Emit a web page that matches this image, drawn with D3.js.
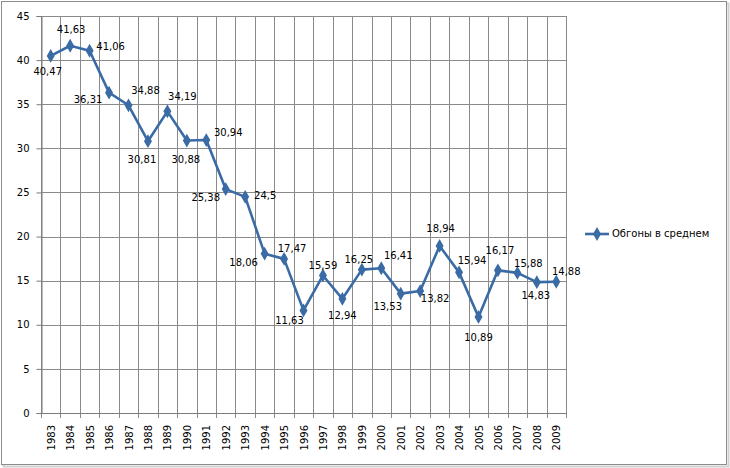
<!DOCTYPE html>
<html>
<head>
<meta charset="utf-8">
<script src="https://cdn.jsdelivr.net/npm/d3@7"></script>
<style>
  body { margin: 0; background: #fff; }
  text { font-family: "DejaVu Sans", sans-serif; font-size: 10px; fill: #000; }
</style>
</head>
<body>
<svg width="730" height="468"></svg>
<script>
// Years and average overtakes per race
const years = ["1983","1984","1985","1986","1987","1988","1989","1990","1991","1992","1993","1994","1995",
  "1996","1997","1998","1999","2000","2001","2002","2003","2004","2005","2006","2007","2008","2009"];
const overtakes = [40.47, 41.63, 41.06, 36.31, 34.88, 30.81, 34.19, 30.88, 30.94, 25.38, 24.5, 18.06, 17.47,
  11.63, 15.59, 12.94, 16.25, 16.41, 13.53, 13.82, 18.94, 15.94, 10.89, 16.17, 15.88, 14.83, 14.88];
const yTicks = [0, 5, 10, 15, 20, 25, 30, 35, 40, 45];
const seriesName = "Обгоны в среднем";

// label nudges relative to each point (how excel placed them)
const labelNudge = [[-3,16],[1,-16],[21,-4],[-21,7],[17,-14],[-6,19],[15,-14],[-1,19],[22,-7],[-20,9],
  [20,-1],[-21,9],[8,-10],[-14,11],[0,-9],[0,17],[-3,-10],[17,-12],[-13,13],[15,8],[1,-17],[13,-11],
  [0,21],[2,-19],[11,-9],[-1,14],[10,-10]];

const svg = d3.select("svg");
const blue = "#3a6ba5";

// outer chart border with a soft shadow
svg.append("rect")
    .attr("x", 3.5).attr("y", 3.5)
    .attr("width", 725).attr("height", 463)
    .attr("fill", "none").attr("stroke", "#d0d0d0").attr("stroke-width", 2);
svg.append("rect")
    .attr("x", 1.5).attr("y", 1.5)
    .attr("width", 725).attr("height", 463)
    .attr("fill", "#fff").attr("stroke", "#8c8c8c");

const plotL = 41, plotR = 566, plotT = 16, plotB = 413;

const x = d3.scaleBand().domain(years).range([plotL, plotR]);
const y = d3.scaleLinear().domain([0, 45]).range([plotB, plotT]);

// horizontal gridlines
svg.append("g").selectAll("line")
    .data(yTicks)
    .enter().append("line")
    .attr("x1", plotL).attr("x2", plotR)
    .attr("y1", d => Math.round(y(d)) + 0.5).attr("y2", d => Math.round(y(d)) + 0.5)
    .attr("stroke", "#8a8a8a");

// vertical gridlines at category boundaries
const bounds = years.map(d => x(d)).concat([plotR]);
svg.append("g").selectAll("line")
    .data(bounds)
    .enter().append("line")
    .attr("x1", d => Math.round(d) + 0.5).attr("x2", d => Math.round(d) + 0.5)
    .attr("y1", plotT).attr("y2", plotB + 5)
    .attr("stroke", "#8a8a8a");

// y axis
const yAxis = svg.append("g")
    .attr("transform", `translate(${plotL + 0.5},0)`)
    .call(d3.axisLeft(y).tickValues(yTicks).tickSize(5).tickPadding(7));
yAxis.select(".domain").attr("stroke", "#7a7a7a");
yAxis.selectAll(".tick line").attr("stroke", "#7a7a7a");
yAxis.selectAll("text").style("font-family", "DejaVu Sans").style("font-size", "10px");

// x axis baseline
svg.append("line")
    .attr("x1", plotL).attr("x2", plotR)
    .attr("y1", plotB + 0.5).attr("y2", plotB + 0.5)
    .attr("stroke", "#7a7a7a");

// x labels rotated
svg.append("g").selectAll("text")
    .data(years)
    .enter().append("text")
    .attr("transform", d => `translate(${x(d) + x.bandwidth() / 2 + 4},${plotB + 12}) rotate(-90)`)
    .attr("text-anchor", "end")
    .text(d => d);

// line
const line = d3.line()
    .x((d, i) => x(years[i]) + x.bandwidth() / 2)
    .y(d => y(d));

svg.append("path")
    .datum(overtakes)
    .attr("d", line)
    .attr("fill", "none")
    .attr("stroke", blue)
    .attr("stroke-width", 2.6)
    .attr("stroke-linejoin", "round");

const diamond = d3.symbol().type(d3.symbolDiamond).size(55);
svg.append("g").selectAll("path")
    .data(overtakes)
    .enter().append("path")
    .attr("transform", (d, i) => `translate(${x(years[i]) + x.bandwidth() / 2},${y(d)})`)
    .attr("d", diamond)
    .attr("fill", blue);

// data labels
svg.append("g").selectAll("text")
    .data(overtakes)
    .enter().append("text")
    .attr("x", (d, i) => x(years[i]) + x.bandwidth() / 2 + labelNudge[i][0])
    .attr("y", (d, i) => y(d) + labelNudge[i][1])
    .attr("text-anchor", "middle")
    .attr("dominant-baseline", "middle")
    .text(d => String(d).replace(".", ","));

// legend
const lg = svg.append("g").attr("transform", "translate(585,234)");
lg.append("line").attr("x1", 0).attr("x2", 24).attr("stroke", blue).attr("stroke-width", 2.6);
lg.append("path").attr("transform", "translate(12,0)").attr("d", diamond).attr("fill", blue);
lg.append("text").attr("x", 27).attr("y", 0).attr("dominant-baseline", "middle")
    .style("font-size", "10px")
    .text(seriesName);
</script>
</body>
</html>
